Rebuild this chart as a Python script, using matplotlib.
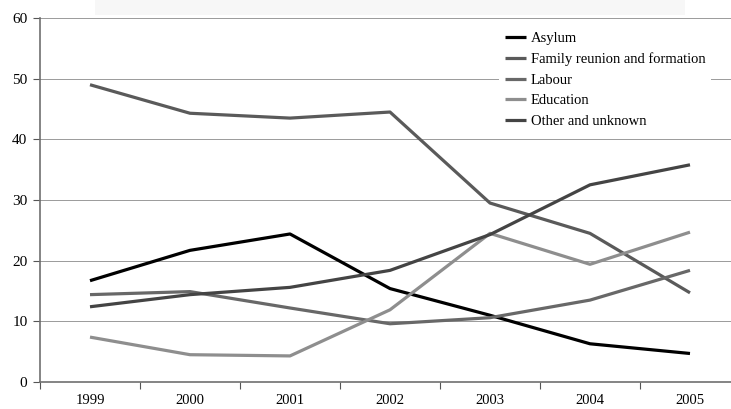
import matplotlib.pyplot as plt
import matplotlib.patches as mpatches
import numpy as np

years = ['1999', '2000', '2001', '2002', '2003', '2004', '2005']
asylum = [16.7, 21.7, 24.4, 15.4, 11.0, 6.3, 4.7]
family = [49.0, 44.3, 43.5, 44.5, 29.5, 24.5, 14.7]
labour = [14.4, 14.9, 12.2, 9.6, 10.6, 13.5, 18.4]
education = [7.4, 4.5, 4.3, 11.9, 24.5, 19.4, 24.7]
other = [12.4, 14.4, 15.6, 18.4, 24.3, 32.5, 35.8]

series = [
    ('Asylum', asylum, '#000000'),
    ('Family reunion and formation', family, '#5a5a5a'),
    ('Labour', labour, '#686868'),
    ('Education', education, '#8e8e8e'),
    ('Other and unknown', other, '#444444'),
]

plt.rcParams['font.family'] = ['Liberation Serif', 'DejaVu Serif']

W, H = 731, 409
fig = plt.figure(figsize=(W / 100, H / 100), dpi=100)
ax = fig.add_axes([40 / W, 27 / H, 700 / W, 364 / H])

# faint box at the very top (remains of a title area)
fig.patches.append(mpatches.Rectangle((95 / W, 394 / H), 590 / W, 15 / H,
                                      transform=fig.transFigure,
                                      facecolor='#f7f7f7', edgecolor='none'))

x = np.arange(len(years))
for name, vals, col in series:
    ax.plot(x, vals, color=col, lw=2.3, label=name, solid_capstyle='butt')

ax.set_xlim(-0.5, len(years) - 0.5)
ax.set_ylim(0, 60)
ax.set_yticks(np.arange(0, 61, 10))
ax.yaxis.grid(True, color='#9a9a9a', lw=0.7)
ax.set_axisbelow(True)

ax.set_xticks(np.arange(-0.5, len(years), 1.0))
ax.set_xticklabels([])
ax.set_xticks(x, minor=True)
ax.set_xticklabels(years, minor=True)
ax.tick_params(axis='x', which='major', direction='out', length=5, color='#555555')
ax.tick_params(axis='x', which='minor', length=0, pad=9, labelsize=10.5)
ax.tick_params(axis='y', direction='out', length=5, color='#555555', labelsize=11, pad=4)

for s in ['top', 'right']:
    ax.spines[s].set_visible(False)
for s in ['left', 'bottom']:
    ax.spines[s].set_color('#707070')
    ax.spines[s].set_linewidth(1.2)

leg = ax.legend(loc='upper left', bbox_to_anchor=(452 / 700, 1 - 1 / 364),
                frameon=True, fancybox=False, edgecolor='none', facecolor='white',
                framealpha=1, fontsize=10.5, handlelength=1.4, handletextpad=0.35,
                labelspacing=0.5, borderpad=0.4)

fig.savefig('out.png', dpi=100)
